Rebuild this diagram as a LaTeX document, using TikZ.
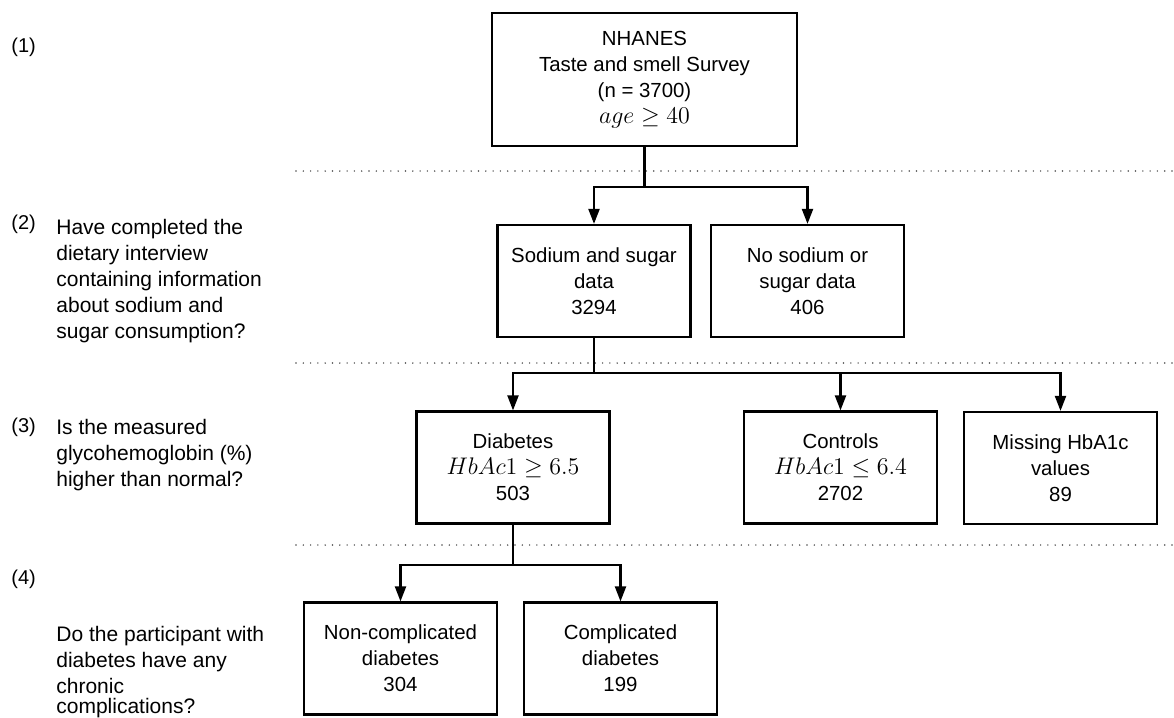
\documentclass[tikz,border=0pt]{standalone}
\usepackage{fontspec}
\setmainfont{Liberation Sans}
\usetikzlibrary{arrows.meta}

\newcommand\boxfont{\fontsize{10.2}{13}\selectfont}
\newcommand\notefont{\fontsize{10.5}{13}\selectfont}
\newcommand\mathline[1]{{\fontsize{12}{13}\selectfont$#1$}}

\begin{document}
\begin{tikzpicture}[x=0.5pt,y=-0.5pt,
		box/.style={draw,line width=1.1pt,minimum width=96.5pt,minimum height=56pt,inner sep=0pt,align=center,font=\boxfont},
		arr/.style={line width=1.05pt,-{Triangle[width=5.5pt,length=7.5pt]}},
		sep/.style={line width=0.8pt,line cap=round,dash pattern=on 0pt off 3.65pt,color=black!70},
		lvl/.style={anchor=west,inner sep=0pt,font=\fontsize{10}{12}\selectfont},
		note/.style={anchor=north west,inner sep=0pt,align=left,font=\notefont}]
				\useasboundingbox (0,0) rectangle (1174,718);
				\foreach \y in {171,363,545} {
					\draw [sep] (296,\y) -- (1174,\y);
				}
				\foreach \n/\y in {1/47,2/224,3/427,4/579} {
					\node [lvl] (lvl\n) at (11,\y) {(\n)};
				}
				\node [note] (q2) at (56,219) {Have completed the\\dietary interview\\containing information\\about sodium and\\sugar consumption?};
				\node [note] (q3) at (56,419) {Is the measured\\glycohemoglobin (\%)\\higher than normal?};
				\node [note] (q4) at (56,626) {Do the participant with\\diabetes have any\\chronic\\[-3pt]complications?};

				\node [box,minimum width=152.5pt,minimum height=66.5pt] (nhanes) at (644.5,79.5) {NHANES\\Taste and smell Survey\\(n = 3700)\\\mathline{age \geq 40}};
				\node [box] (sodium) at (594,281) {Sodium and sugar\\data\\3294};
				\node [box] (nodata) at (807.5,281) {No sodium or\\sugar data\\406};
				\node [box] (diab) at (513,467.5) {Diabetes\\\mathline{HbAc1 \geq 6.5}\\503};
				\node [box] (ctrl) at (840.5,467.5) {Controls\\\mathline{HbAc1 \leq 6.4}\\2702};
				\node [box] (missing) at (1060.5,468) {Missing HbA1c\\values\\89};
				\node [box] (noncomp) at (400.5,658.5) {Non-complicated\\diabetes\\304};
				\node [box] (comp) at (620.5,658.5) {Complicated\\diabetes\\199};

				\foreach \c in {sodium,nodata}
					\draw [arr] (nhanes.south) -- ++(0,40) -| (\c.north);
				\foreach \c in {diab,ctrl,missing}
					\draw [arr] (sodium.south) -- ++(0,35) -| (\c.north);
				\foreach \c in {noncomp,comp}
					\draw [arr] (diab.south) -- ++(0,40) -| (\c.north);
			\end{tikzpicture}
\end{document}
